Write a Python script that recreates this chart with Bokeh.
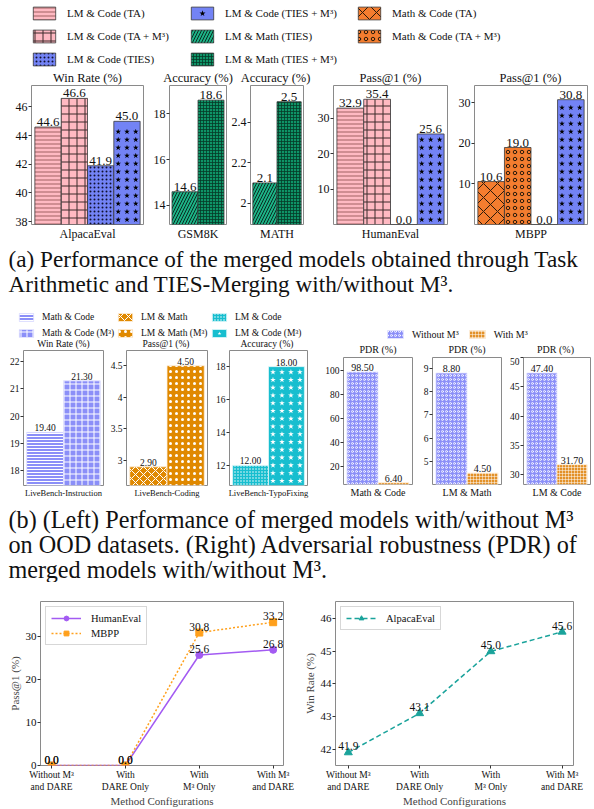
from bokeh.plotting import figure
from bokeh.models import (Range1d, FactorRange, FixedTicker, Legend, LegendItem, Label,
                          ColumnDataSource)
from bokeh.transform import dodge
from bokeh.layouts import column, row
from bokeh.embed import file_html
from bokeh.resources import INLINE
from bokeh.core.properties import value

SERIF = "Liberation Serif"

# ---------------- (a) data ----------------
series_a = ["LM & Code (TA)", "LM & Code (TA + M³)", "LM & Code (TIES)",
            "LM & Code (TIES + M³)", "LM & Math (TIES)", "LM & Math (TIES + M³)",
            "Math & Code (TA)", "Math & Code (TA + M³)"]
alpaca_series = ["LM & Code (TA)", "LM & Code (TA + M³)", "LM & Code (TIES)", "LM & Code (TIES + M³)"]
alpaca_vals = [44.6, 46.6, 41.9, 45.0]
gsm8k_series = ["LM & Math (TIES)", "LM & Math (TIES + M³)"]
gsm8k_vals = [14.6, 18.6]
math_series = ["LM & Math (TIES)", "LM & Math (TIES + M³)"]
math_vals = [2.1, 2.5]
humaneval_series = ["LM & Code (TA)", "LM & Code (TA + M³)", "LM & Code (TIES)", "LM & Code (TIES + M³)"]
humaneval_vals = [32.9, 35.4, 0.0, 25.6]
mbpp_series = ["Math & Code (TA)", "Math & Code (TA + M³)", "LM & Code (TIES)", "LM & Code (TIES + M³)"]
mbpp_vals = [10.6, 19.0, 0.0, 30.8]
alpaca_ticks = [38, 40, 42, 44, 46]
gsm8k_ticks = [14, 16, 18]
math_ticks = [2.0, 2.2, 2.4]
humaneval_ticks = [10, 20, 30]
mbpp_ticks = [10, 20, 30]

# ---------------- (b) data ----------------
ood_series = ["Math & Code", "Math & Code (M³)", "LM & Math", "LM & Math (M³)", "LM & Code", "LM & Code (M³)"]
instr_vals = [19.40, 21.30]
coding_vals = [2.90, 4.50]
typo_vals = [12.00, 18.00]
instr_ticks = [18, 19, 20, 21, 22]
coding_ticks = [3.0, 3.5, 4.0, 4.5]
typo_ticks = [12, 14, 16, 18]
pdr_series = ["Without M³", "With M³"]
pdr_groups = ["Math & Code", "LM & Math", "LM & Code"]
pdr_without = [98.50, 8.80, 47.40]
pdr_with = [6.40, 4.50, 31.70]
pdr_ticks = [[20, 40, 60, 80, 100], [5, 6, 7, 8, 9], [30, 35, 40, 45, 50]]

# ---------------- (c) data ----------------
configs = ["Without M³\nand DARE", "With\nDARE Only", "With\nM³ Only", "With M³\nand DARE"]
humaneval_line = [0.0, 0.0, 25.6, 26.8]
mbpp_line = [0.0, 0.0, 30.8, 33.2]
alpaca_line = [41.9, 43.1, 45.0, 45.6]
passk_ticks = [0, 10, 20, 30]
win_ticks = [42, 43, 44, 45, 46]

captionA = ["(a) Performance of the merged models obtained through Task",
            "Arithmetic and TIES-Merging with/without M³."]
captionB = ["(b) (Left) Performance of merged models with/without M³",
            "on OOD datasets.  (Right) Adversarial robustness (PDR) of",
            "merged models with/without M³."]

# ---------------- styles ----------------
PINK = "#FFB9C2"; BLUE = "#7383F5"; GREEN = "#1CB386"; GREEN2 = "#0E9467"; ORANGE = "#F47D2F"
BLUE2 = "#8B8FF8"; ORANGE3 = "#E08900"; CYAN = "#17BECF"; ORANGE4 = "#E39128"
PURPLE = "#A35BF2"; MB_ORANGE = "#FFA01C"; TEAL = "#1AA39B"
EDGE = "#3a3a3a"

STY = {
    "LM & Code (TA)": dict(fill=PINK, pattern="horizontal_line", hc="#8a4a4a", hs=4, hw=1, ha=0.8),
    "LM & Code (TA + M³)": dict(fill=PINK, pattern="cross", hc="#3b2a2a", hs=8, hw=1),
    "LM & Code (TIES)": dict(fill=BLUE, pattern="dot", hc="#101030", hs=4, hw=1),
    "LM & Code (TIES + M³)": dict(fill=BLUE, pattern=None, star="black"),
    "LM & Math (TIES)": dict(fill=GREEN, pattern="right_diagonal_line", hc="#0a2a20", hs=6, hw=1),
    "LM & Math (TIES + M³)": dict(fill=GREEN2, pattern="cross", hc="#053b28", hs=3, hw=1, ha=0.8),
    "Math & Code (TA)": dict(fill=ORANGE, pattern="diagonal_cross", hc="#2a1a0a", hs=14, hw=1),
    "Math & Code (TA + M³)": dict(fill=ORANGE, pattern="ring", hc="#2a1a0a", hs=7, hw=1),
    "Math & Code": dict(fill=BLUE2, pattern="horizontal_line", hc="white", hs=3, hw=1, line="#e6e6ff"),
    "Math & Code (M³)": dict(fill=BLUE2, pattern="cross", hc="white", hs=6, hw=1, line="#e6e6ff"),
    "LM & Math": dict(fill=ORANGE3, pattern="diagonal_cross", hc="white", hs=8, hw=1, line="#fff0dd"),
    "LM & Math (M³)": dict(fill=ORANGE3, pattern="dot", hc="white", hs=6, hw=2, line="#fff0dd"),
    "LM & Code": dict(fill=CYAN, pattern="dot", hc="white", hs=3, hw=1, line="#ddf6f9"),
    "LM & Code (M³)": dict(fill=CYAN, pattern=None, star="white", line="#ddf6f9"),
    "Without M³": dict(fill=BLUE2, pattern="ring", hc="white", hs=4, hw=0.8, line="#e6e6ff"),
    "With M³": dict(fill=ORANGE4, pattern="cross", hc="white", hs=3, hw=0.7, ha=0.7, line="#fff0dd"),
}


def bar_kw(st):
    kw = dict(fill_color=st["fill"], line_color=st.get("line", EDGE), line_width=st.get("lw", 0.8))
    if st["pattern"]:
        kw.update(hatch_pattern=st["pattern"], hatch_color=st.get("hc", "black"),
                  hatch_alpha=st.get("ha", 1.0), hatch_scale=st.get("hs", 8),
                  hatch_weight=st.get("hw", 1))
    return kw


def base_fig(w, h, xr, yr, bl, br, bt, bb):
    p = figure(width=w, height=h, x_range=xr, y_range=yr, output_backend="svg",
               toolbar_location=None, min_border_left=bl, min_border_right=br,
               min_border_top=bt, min_border_bottom=bb)
    p.grid.visible = False
    p.outline_line_color = "#8a8a8a"
    p.outline_line_width = 1
    p.background_fill_color = "white"
    p.border_fill_color = "white"
    return p


def style_axes(p, yticks, tick_fs, x_fs, xticks_out=0):
    for ax in p.yaxis:
        ax.ticker = FixedTicker(ticks=yticks)
        ax.axis_line_color = None
        ax.major_tick_out = 3
        ax.major_tick_in = 0
        ax.minor_tick_line_color = None
        ax.major_tick_line_color = "#333333"
        ax.major_label_standoff = 1
        ax.major_label_text_font = SERIF
        ax.major_label_text_font_size = tick_fs
        ax.major_label_text_color = "#111111"
        ax.axis_label_text_font = SERIF
        ax.axis_label_text_font_style = "normal"
    for ax in p.xaxis:
        ax.axis_line_color = None
        ax.major_tick_out = xticks_out
        ax.major_tick_in = 0
        ax.major_tick_line_color = "#333333" if xticks_out else None
        ax.minor_tick_line_color = None
        ax.major_label_standoff = 2
        ax.major_label_text_font = SERIF
        ax.major_label_text_font_size = x_fs
        ax.major_label_text_color = "#111111"
        ax.axis_label_text_font = SERIF
        ax.axis_label_text_font_style = "normal"


def add_stars(p, cat, off, bw, top, yr, fw, fh, color, step=8.0, size=6):
    # star texture drawn as a grid of star markers inside the bar (derived from its value)
    uy = (yr[1] - yr[0]) / fh
    bar_px = bw * fw
    ncol = max(1, int(bar_px // step))
    y = max(yr[0], 0) + uy * step * 0.6
    ys = []
    while y < top - uy * 3:
        ys.append(y)
        y += uy * step
    for c in range(ncol):
        xo = off - bw / 2 + (c + 0.5) * bw / ncol
        src = ColumnDataSource(dict(x=[cat] * len(ys), y=ys))
        p.scatter(x=dodge("x", xo, range=p.x_range), y="y", source=src, marker="star",
                  size=size, fill_color=color, line_color=None)


def bar_panel(cat, series, vals, yr, yticks, w, h, bl, br, bt, bb, bw, fmt,
              tick_fs, lab_fs, x_fs):
    p = base_fig(w, h, FactorRange(factors=[cat], range_padding=0), Range1d(*yr), bl, br, bt, bb)
    fw, fh = w - bl - br, h - bt - bb
    n = len(vals)
    for i, (s, v) in enumerate(zip(series, vals)):
        off = (i - (n - 1) / 2) * bw
        st = STY[s]
        src = ColumnDataSource(dict(x=[cat], top=[v], lab=[fmt.format(v)]))
        p.vbar(x=dodge("x", off, range=p.x_range), top="top", width=bw, source=src, **bar_kw(st))
        if st.get("star"):
            add_stars(p, cat, off, bw, v, yr, fw, fh, st["star"])
        p.text(x=dodge("x", off, range=p.x_range), y="top", text="lab", source=src,
               text_align="center", text_baseline="bottom", y_offset=-1,
               text_font=value(SERIF), text_font_size=lab_fs, text_color="#111111")
    style_axes(p, yticks, tick_fs, x_fs)
    return p


def blank_fig(w, h):
    p = figure(width=w, height=h, x_range=Range1d(0, 1), y_range=Range1d(0, 1),
               output_backend="svg", toolbar_location=None, min_border=0,
               x_axis_location=None, y_axis_location=None)
    p.outline_line_color = None
    p.grid.visible = False
    return p


def legend_fig(w, h, groups, gw, gh, fs, spacing, standoff, lh, orientation="vertical", star_size=6):
    p = blank_fig(w, h)
    for (x, y, names) in groups:
        items = []
        for nm in names:
            st = STY[nm]
            # zero-size placeholder glyph outside the visible range: only its legend swatch shows
            src = ColumnDataSource(dict(x=[2.0], y=[0.5]))
            rs = [p.vbar(x="x", top="y", bottom="y", width=0.0, source=src, **bar_kw(st))]
            if st.get("star"):
                rs.append(p.scatter(x="x", y="y", source=src, marker="star", size=star_size,
                                    fill_color=st["star"], line_color=None))
            items.append(LegendItem(label=value(nm), renderers=rs))
        lg = Legend(items=items, location=(x, y), orientation=orientation,
                    glyph_width=gw, glyph_height=gh, label_height=lh, label_standoff=standoff,
                    spacing=spacing, padding=0, margin=0, border_line_color=None,
                    background_fill_alpha=0, label_text_font=SERIF, label_text_font_size=fs,
                    label_text_color="#111111")
        p.add_layout(lg)
    return p


def add_titles(p, titles, centers, y, fs):
    for t, cx in zip(titles, centers):
        p.add_layout(Label(x=cx, y=y, x_units="screen", y_units="screen", text=t,
                           text_font=SERIF, text_font_size=fs, text_align="center",
                           text_baseline="alphabetic", text_color="#111111"))


def frame_centers(specs, start=0):
    out = []
    x = start
    for (w, bl, br) in specs:
        out.append(x + bl + (w - bl - br) / 2)
        x += w
    return out


def caption_fig(w, h, lines, first, pitch, fs):
    p = blank_fig(w, h)
    for i, t in enumerate(lines):
        p.add_layout(Label(x=8, y=h - (first + i * pitch), x_units="screen", y_units="screen",
                           text=t, text_font=SERIF, text_font_size=fs,
                           text_baseline="middle", text_align="left", text_color="#111111"))
    return p


# ---------------- section (a) ----------------
A_geom = [(150, 31, 7), (78, 19, 2), (78, 19, 3), (149, 27, 8), (139, 18, 7)]
A_titles = ["Win Rate (%)", "Accuracy (%)", "Accuracy (%)", "Pass@1 (%)", "Pass@1 (%)"]
A_data = [
    ("AlpacaEval", alpaca_series, alpaca_vals, (37.8, 47.5), alpaca_ticks, 0.235),
    ("GSM8K", gsm8k_series, gsm8k_vals, (13.17, 19.24), gsm8k_ticks, 0.456),
    ("MATH", math_series, math_vals, (1.895, 2.58), math_ticks, 0.456),
    ("HumanEval", humaneval_series, humaneval_vals, (0, 39.3), humaneval_ticks, 0.235),
    ("MBPP", mbpp_series, mbpp_vals, (0, 34.3), mbpp_ticks, 0.235),
]

legA = legend_fig(594, 85, [(30, 18, series_a[0:3]), (188, 18, series_a[3:6]), (355, 41, series_a[6:8])],
                  gw=28, gh=16, fs="11px", spacing=7, standoff=9, lh=16)
add_titles(legA, A_titles, frame_centers(A_geom), 8, "12.5px")

panelsA = [bar_panel(c, s, v, yr, tk, w, 160, bl, br, 0, 21, bw, "{:.1f}", "12px", "13px", "12px")
           for (c, s, v, yr, tk, bw), (w, bl, br) in zip(A_data, A_geom)]

capA = caption_fig(594, 52, captionA, 13, 25, "23.2px")

# ---------------- section (b) ----------------
BL_geom = [(107, 23, 4), (105, 17, 5), (98, 14, 3)]
BL_titles = ["Win Rate (%)", "Pass@1 (%)", "Accuracy (%)"]
BL_data = [
    ("LiveBench-Instruction", ood_series[0:2], instr_vals, (17.44, 22.42), instr_ticks),
    ("LiveBench-Coding", ood_series[2:4], coding_vals, (2.605, 4.74), coding_ticks),
    ("LiveBench-TypoFixing", ood_series[4:6], typo_vals, (10.78, 18.98), typo_ticks),
]
legBL = legend_fig(310, 53, [(17, 11, ood_series[0:2]), (116, 11, ood_series[2:4]), (210, 11, ood_series[4:6])],
                   gw=18, gh=10, fs="9.5px", spacing=4, standoff=7, lh=12, star_size=5)
add_titles(legBL, BL_titles, frame_centers(BL_geom), 7, "9.5px")
panelsBL = [bar_panel(c, s, v, yr, tk, w, 150, bl, br, 0, 11, 0.46, "{:.2f}",
                      "9.5px", "9.5px", "8.5px")
            for (c, s, v, yr, tk), (w, bl, br) in zip(BL_data, BL_geom)]

BR_geom = [(110, 33, 8), (86, 12, 5), (88, 14, 4)]
BR_yr = [(4.9, 110.5), (4.0, 9.47), (28.3, 50.05)]
legBR = legend_fig(284, 60, [(75, 17, pdr_series)], gw=20, gh=10, fs="10px", spacing=8,
                   standoff=7, lh=12, orientation="horizontal")
add_titles(legBR, ["PDR (%)"] * 3, frame_centers(BR_geom), 8, "10px")
panelsBR = []
for gi, g in enumerate(pdr_groups):
    w, bl, br = BR_geom[gi]
    panelsBR.append(bar_panel(g, pdr_series, [pdr_without[gi], pdr_with[gi]], BR_yr[gi], pdr_ticks[gi],
                              w, 143, bl, br, 0, 12, 0.45, "{:.2f}", "9.5px", "10px", "10px"))

sectionB = row(column(legBL, row(*panelsBL)), column(legBR, row(*panelsBR)))

capB = caption_fig(594, 82, captionB, 19, 25, "24.2px")

# ---------------- section (c) ----------------
xs = list(range(len(configs)))
overrides = {i: c for i, c in enumerate(configs)}


def line_fig(w, bl, br, xr, yr, yticks, ylabel):
    p = base_fig(w, 227, Range1d(*xr), Range1d(*yr), bl, br, 19, 36)
    style_axes(p, yticks, "11px", "9.5px", xticks_out=3)
    p.xaxis.ticker = FixedTicker(ticks=xs)
    p.xaxis.major_label_overrides = overrides
    p.xaxis.major_label_standoff = 1
    p.xaxis.axis_label = "Method Configurations"
    p.xaxis.axis_label_text_font_size = "11px"
    p.xaxis.axis_label_standoff = 0
    p.yaxis.axis_label = ylabel
    p.yaxis.axis_label_text_font_size = "11px"
    p.yaxis.axis_label_standoff = 2
    return p


def ann(p, vals):
    src = ColumnDataSource(dict(x=xs, y=vals, t=["{:.1f}".format(v) for v in vals]))
    p.text(x="x", y="y", text="t", source=src, text_align="center", text_baseline="bottom",
           y_offset=-2, text_font=value(SERIF), text_font_size="11.5px", text_color="#111111")


def line_legend(p, items):
    lg = Legend(items=items, location="top_left", margin=5, padding=5, spacing=3,
                glyph_width=30, glyph_height=12, label_height=12, label_standoff=10,
                label_text_font=SERIF, label_text_font_size="10.5px", label_text_color="#111111",
                border_line_color="#b0b0b0", border_line_width=1, background_fill_alpha=1)
    p.add_layout(lg)


pC1 = line_fig(300, 40, 17, (-0.15, 3.14), (0, 38), passk_ticks, "Pass@1 (%)")
l1 = pC1.line(xs, humaneval_line, line_color=PURPLE, line_width=1.5)
s1 = pC1.scatter(xs, humaneval_line, marker="circle", size=7, color=PURPLE)
l2 = pC1.line(xs, mbpp_line, line_color=MB_ORANGE, line_width=1.5, line_dash="2 2")
s2 = pC1.scatter(xs, mbpp_line, marker="square", size=7, color=MB_ORANGE)
ann(pC1, humaneval_line)
ann(pC1, mbpp_line)
line_legend(pC1, [LegendItem(label=value("HumanEval"), renderers=[l1, s1]),
                  LegendItem(label=value("MBPP"), renderers=[l2, s2])])

pC2 = line_fig(294, 28, 21, (-0.18, 3.16), (41.5, 46.53), win_ticks, "Win Rate (%)")
l3 = pC2.line(xs, alpaca_line, line_color=TEAL, line_width=1.5, line_dash="5 3")
s3 = pC2.scatter(xs, alpaca_line, marker="triangle", size=8, color=TEAL)
ann(pC2, alpaca_line)
line_legend(pC2, [LegendItem(label=value("AlpacaEval"), renderers=[l3, s3])])

layout = column(legA, row(*panelsA), capA, sectionB, capB, row(pC1, pC2))

open("out.html", "w").write(file_html(layout, INLINE))
